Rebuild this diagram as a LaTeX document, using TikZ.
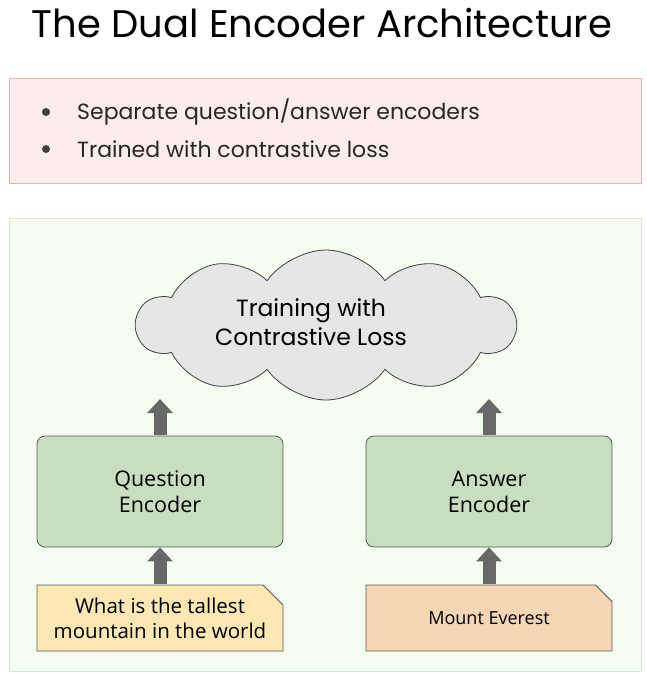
\documentclass[tikz,border=0pt]{standalone}
\usepackage{fontspec}
\setmainfont{Poppins}
\newfontfamily\boxfont{Open Sans}
\usetikzlibrary{arrows.meta,shapes.symbols,shapes.misc,positioning}

\definecolor{pinkfill}{HTML}{FCECEC}
\definecolor{pinkline}{HTML}{E3B9B8}
\definecolor{greenbg}{HTML}{F4FDEF}
\definecolor{greenline}{HTML}{D6E8CF}
\definecolor{encfill}{HTML}{C9DEC0}
\definecolor{qfill}{HTML}{FDE7B3}
\definecolor{afill}{HTML}{F7D6B6}
\definecolor{cloudfill}{HTML}{E6E6E6}
\definecolor{arrowgrey}{HTML}{686868}

\tikzset{
  panel/.style={draw, line width=1pt, inner sep=0pt},
  dot/.style={circle, fill=black!75, inner sep=0pt, minimum size=8pt},
  bullettext/.style={font=\fontsize{22}{26}\selectfont, text=black!85, inner sep=0pt},
  encoder/.style={draw=black!65, fill=encfill, rounded corners=8pt, line width=0.8pt,
    minimum width=246pt, minimum height=111pt, align=center,
    font=\boxfont\fontsize{21.5}{26}\selectfont},
  inputbox/.style={draw=black!65, line width=0.8pt, chamfered rectangle,
    chamfered rectangle corners=north east, chamfered rectangle xsep=10pt,
    chamfered rectangle ysep=10pt, minimum width=246pt, minimum height=66pt,
    inner sep=0pt, align=center},
  blockarrow/.style={line width=13pt, draw=arrowgrey,
    -{Triangle[width=25pt,length=14pt]}, shorten <=0.5pt},
}

\begin{document}
\begin{tikzpicture}[x=1pt, y=-1pt]
  \useasboundingbox (0,0) rectangle (647,683);

  % title
  \node[anchor=base, font=\fontsize{38.5}{44}\selectfont, inner sep=0pt] (title) at (322,37)
    {The Dual Encoder Architecture};

  % summary panel
  \node[panel, draw=pinkline, fill=pinkfill, minimum width=632pt, minimum height=105pt]
    (summary) at (325,130.5) {};
  \node[dot] (d1) at (46,112) {};
  \node[dot] (d2) at (46,149) {};
  \node[bullettext, anchor=base west] (b1) at (77,119) {Separate question/answer encoders};
  \node[bullettext, anchor=base west] (b2) at (77,157) {Trained with contrastive loss};

  % architecture panel
  \node[panel, draw=greenline, fill=greenbg, minimum width=632pt, minimum height=453pt]
    (arch) at (325,444.5) {};

  \node[cloud, cloud puffs=10, cloud puff arc=110, aspect=2.5, draw=black!75, fill=cloudfill,
    line width=0.8pt, minimum width=378pt, minimum height=150pt] (loss) at (326,325) {};
  \node[align=center, font=\fontsize{23.5}{29}\selectfont] (losstext) at (311,322)
    {Training with\\Contrastive Loss};

  \node[encoder] (qenc) at (160,491.5) {Question\\Encoder};
  \node[encoder] (aenc) at (489,491.5) {Answer\\Encoder};

  \node[inputbox, fill=qfill, font=\boxfont\fontsize{20.5}{25}\selectfont] (qin) at (160,618)
    {\raisebox{-3pt}{What is the tallest}\\\raisebox{-3pt}{mountain in the world}};
  \node[inputbox, fill=afill, font=\boxfont\fontsize{18}{22}\selectfont] (ain) at (489,618)
    {\raisebox{-3pt}{Mount Everest}};

  \coordinate (qtop) at (160,399);
  \coordinate (atop) at (489,399);

  \draw[blockarrow] (qenc.north) -- (qtop);
  \draw[blockarrow] (aenc.north) -- (atop);
  \draw[blockarrow] (qin.north) -- (qenc.south);
  \draw[blockarrow] (ain.north) -- (aenc.south);
\end{tikzpicture}
\end{document}
